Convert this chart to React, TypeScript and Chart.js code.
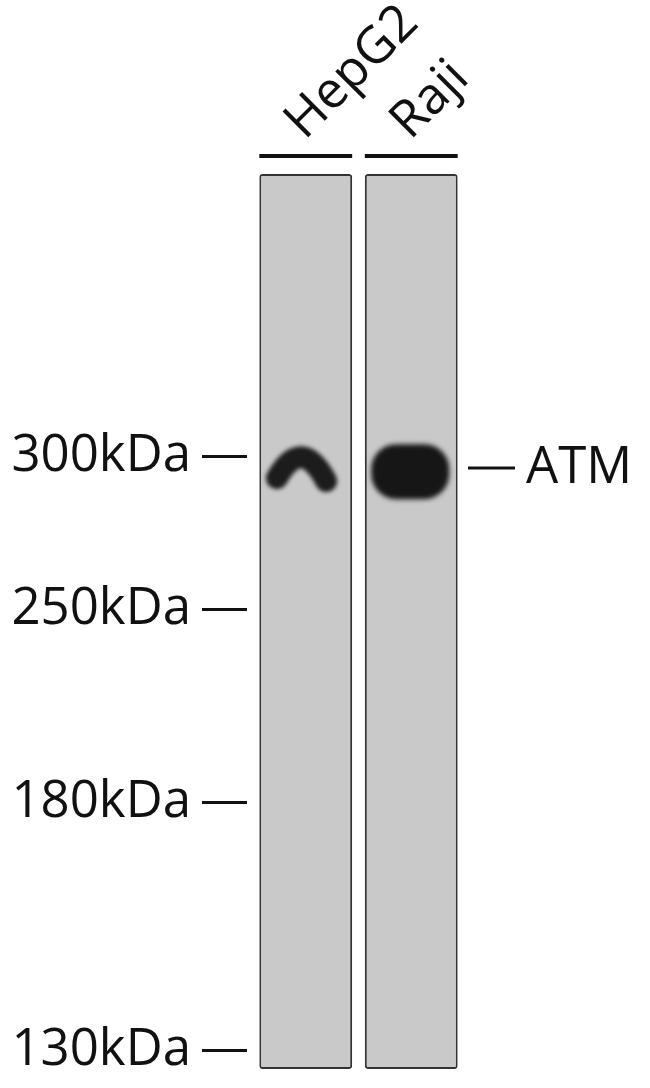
import React, { useEffect, useRef } from "react";
import { Chart, registerables } from "chart.js";

Chart.register(...registerables);

// lanes of the blot
const lanes = ["HepG2", "Raji"];
// molecular weight ladder (migration in % of gel length, from top)
const markerLabels = ["300kDa", "250kDa", "180kDa", "130kDa"];
const markerMigration = [31.6, 48.7, 70.2, 97.9];
// detected band per lane
const bandMigration = [33.3, 33.2];
const bandShape = ["arc", "blob"];
// target protein
const targetName = "ATM";
const targetMigration = 32.85;

const FONT = '"Open Sans", "DejaVu Sans", sans-serif';

const blotPlugin = {
  id: "blot",
  afterDatasetsDraw(chart: any) {
    const { ctx, chartArea, scales } = chart;
    const meta = chart.getDatasetMeta(0);
    ctx.save();

    // bars over the lane names
    meta.data.forEach((bar: any) => {
      const { x, width } = bar.getProps(["x", "width"], true);
      ctx.fillStyle = "#111";
      ctx.fillRect(x - width / 2, chartArea.top - 20, width, 4);
    });

    // bands
    meta.data.forEach((bar: any, i: number) => {
      const { x, width } = bar.getProps(["x", "width"], true);
      const yc = scales.y.getPixelForValue(bandMigration[i]);
      ctx.save();
      if (bandShape[i] === "arc") {
        ctx.filter = "blur(2px)";
        ctx.strokeStyle = "#1c1c1c";
        ctx.lineWidth = 22;
        ctx.lineCap = "round";
        ctx.beginPath();
        ctx.moveTo(x - width * 0.31, yc + 6);
        ctx.quadraticCurveTo(x - 4, yc - 37, x + width * 0.22, yc + 9);
        ctx.stroke();
      } else {
        ctx.filter = "blur(2.5px)";
        ctx.fillStyle = "#161616";
        ctx.beginPath();
        ctx.roundRect(x - 40, yc - 27, 78, 55, 25);
        ctx.fill();
      }
      ctx.restore();
    });

    // target label on the right
    const ty = scales.y.getPixelForValue(targetMigration);
    ctx.fillStyle = "#111";
    ctx.fillRect(chartArea.right + 4, ty - 1.5, 47, 3);
    ctx.font = `51px ${FONT}`;
    ctx.textBaseline = "middle";
    ctx.textAlign = "left";
    ctx.fillText(targetName, chartArea.right + 62, ty);
    ctx.restore();
  },
};

export default function App() {
  const chartRef = useRef<HTMLCanvasElement>(null);

  useEffect(() => {
    if (!chartRef.current) return;
    const chart = new Chart(chartRef.current, {
      type: "bar",
      data: {
        labels: lanes,
        datasets: [
          {
            data: lanes.map(() => [0, 100]) as any,
            backgroundColor: "#c9c9c9",
            borderColor: "#333",
            borderWidth: 2,
            borderRadius: 3,
            borderSkipped: false,
            barPercentage: 0.88,
            categoryPercentage: 1,
          },
        ],
      },
      options: {
        animation: false,
        responsive: true,
        maintainAspectRatio: false,
        events: [],
        layout: { padding: { left: 0, right: 186, top: 0, bottom: 19 } },
        plugins: { legend: { display: false }, tooltip: { enabled: false } },
        scales: {
          x: {
            type: "category",
            position: "top",
            offset: true,
            grid: { display: false },
            border: { display: false },
            ticks: {
              autoSkip: false,
              minRotation: 45,
              maxRotation: 45,
              padding: 14,
              labelOffset: 32,
              color: "#111",
              font: { family: FONT, size: 51 },
            },
            afterFit: (scale: any) => {
              scale.height = 174;
              scale.paddingLeft = 0;
              scale.paddingRight = 0;
            },
          },
          y: {
            type: "linear",
            reverse: true,
            min: 0,
            max: 100,
            border: { display: false },
            grid: {
              drawOnChartArea: false,
              tickLength: 51,
              tickWidth: 3,
              tickColor: "#111",
              tickBorderDash: [45, 100],
            },
            afterBuildTicks: (scale: any) => {
              scale.ticks = markerMigration.map((v) => ({ value: v }));
            },
            afterFit: (scale: any) => {
              scale.width = 253;
              scale.paddingTop = 0;
              scale.paddingBottom = 0;
            },
            ticks: {
              autoSkip: false,
              padding: 11,
              color: "#111",
              font: { family: FONT, size: 51 },
              callback: (value: any) =>
                markerLabels[markerMigration.indexOf(Number(value))] ?? "",
            },
          },
        },
      },
      plugins: [blotPlugin],
    });
    return () => {
      chart.destroy();
    };
  }, []);

  return (
    <div style={{ position: "fixed", left: 0, top: 0, width: 650, height: 1088 }}>
      <canvas ref={chartRef} />
    </div>
  );
}
